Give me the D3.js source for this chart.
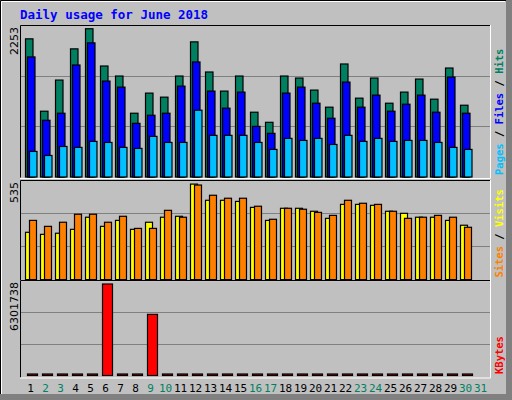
<!DOCTYPE html><html><head><meta charset="utf-8"><script src="https://cdn.jsdelivr.net/npm/d3@7"></script>
<style>body{margin:0}svg{display:block}</style></head><body><svg id="c" width="512" height="400"></svg><script>
const days=d3.range(1,32);
const weekend=[2,3,9,10,16,17,23,24,30,31];
const hits=[2054,978,1441,1905,2204,1650,1501,948,1247,1187,1501,2009,1561,1277,1501,963,813,1501,1471,1292,1038,1680,1172,1471,1097,1262,1456,1157,1620,1067,0];
const files=[1785,843,948,1665,1994,1426,1336,798,918,948,1351,1710,1277,1023,1262,753,649,1247,1336,1097,873,1411,1038,1217,978,1082,1217,963,1486,948,0];
const pages=[380,320,454,440,529,514,440,425,604,514,514,993,619,619,619,514,410,574,544,574,484,619,529,574,529,544,544,514,440,410,0];
const visits=[254,243,249,270,335,286,318,270,308,335,340,513,426,426,420,388,318,383,383,367,329,404,404,399,367,356,335,335,318,292,0];
const sites=[318,286,308,351,351,308,340,275,275,372,335,508,453,437,437,394,324,383,378,361,345,426,410,404,367,329,335,345,335,281,0];
const kbytes=[15000,15000,15000,15000,15000,6301738,15000,15000,4210000,15000,15000,15000,15000,15000,15000,15000,15000,15000,15000,15000,15000,15000,15000,15000,15000,15000,15000,15000,15000,15000,0];
const yLabels=["2253","535","6301738"];
const svg=d3.select("#c");
svg.append("rect").attr("width",512).attr("height",400).attr("fill","#c0c0c0");
svg.append("path").attr("d","M0.5,399V0.5H511").attr("fill","none").attr("stroke","#000");
svg.append("path").attr("d","M1.5,398V1.5H505").attr("fill","none").attr("stroke","#fff");
svg.append("rect").attr("x",506).attr("y",0).attr("width",6).attr("height",400).attr("fill","#808080");
svg.append("rect").attr("x",0).attr("y",394).attr("width",512).attr("height",6).attr("fill","#808080");
svg.append("text").attr("x",20).attr("y",19).attr("font-family","DejaVu Sans Mono").attr("font-weight","bold").attr("font-size",12.5).attr("fill","#0000ff").text("Daily usage for June 2018");
const x=d3.scaleLinear().domain([1,31]).range([25,475]);
const panels=[
 {y0:25,y1:177,max:2253*1.003,series:[[hits,"#008060",0],[files,"#0000ff",2],[pages,"#00c0ff",4]],bw:7.5,label:[["Pages","#00c0ff"],[" / ","#000"],["Files","#0000ff"],[" / ","#000"],["Hits","#008060"]]},
 {y0:180,y1:279.6,max:535,series:[[visits,"#ffff00",0],[sites,"#ff8000",4]],bw:7,label:[["Sites","#ff8000"],[" / ","#000"],["Visits","#ffff00"]]},
 {y0:280,y1:375.5,max:6577800,series:[[kbytes,"#ff0000",2]],bw:10,label:[["KBytes","#ff0000"]]}
];
panels.forEach((p,i)=>{
 const y=d3.scaleLinear().domain([0,p.max]).range([p.y1,p.y0]);
 const g=svg.append("g");
 const bottom=i==2?377.5:p.y1+0.5;
 g.append("path").attr("d",`M${20.5},${bottom}V${p.y0+0.5}H490.5`).attr("fill","none").attr("stroke","#000");
 g.append("path").attr("d",`M20,${bottom+0.5+ (i==0?0.5:0)}H490.5V${p.y0}`).attr("fill","none").attr("stroke","#fff");
 [1/3,2/3].forEach(f=>g.append("line").attr("x1",21).attr("x2",490).attr("y1",Math.round(p.y1-(p.y1-p.y0)*f)+0.5).attr("y2",Math.round(p.y1-(p.y1-p.y0)*f)+0.5).attr("stroke","#808080"));
 p.series.forEach(([vals,col,off])=>{
  g.selectAll(null).data(days.filter((d,k)=>vals[k]>0)).enter().append("rect")
   .attr("x",d=>x(d)+off+0.5).attr("width",p.bw).attr("y",d=>Math.min(y(vals[d-1]),p.y1-1.5)).attr("height",d=>Math.max(p.y1-y(vals[d-1]),1.5))
   .attr("fill",col).attr("stroke","#000").attr("stroke-width",1.2);
 });
 svg.append("text").attr("transform",`translate(18,${p.y0+2}) rotate(-90)`).attr("text-anchor","end").attr("font-family","DejaVu Sans").attr("font-size",11).text(yLabels[i]);
 const t=svg.append("text").attr("transform",`translate(503,${i==2?374:p.y1-2}) rotate(-90)`).attr("font-family","DejaVu Sans Mono").attr("font-weight","bold").attr("font-size",10.5);
 p.label.forEach(([s,c])=>t.append("tspan").attr("fill",c).text(s));
});
svg.selectAll(".xl").data(days).enter().append("text").attr("x",d=>x(d)+5.5).attr("y",392).attr("text-anchor","middle")
 .attr("font-family","DejaVu Sans Mono").attr("font-size",11).attr("fill",d=>weekend.includes(d)?"#008060":"#000").text(d=>d);
</script></body></html>
